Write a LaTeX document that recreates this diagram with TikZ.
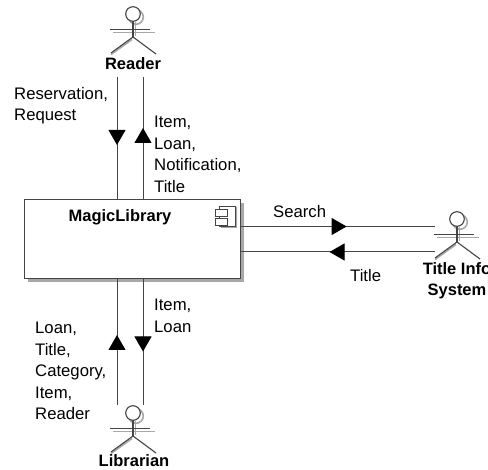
\documentclass[tikz,border=0pt]{standalone}
\usepackage{fontspec}
\setmainfont{Liberation Sans}
\usetikzlibrary{decorations.markings,arrows.meta}
\definecolor{ln}{gray}{0.27}
\definecolor{shd}{gray}{0.66}
\tikzset{
  lbl/.style={inner sep=0pt,align=left,anchor=north west,font=\fontsize{16.7}{21.5}\selectfont},
  ttl/.style={inner sep=0pt,align=center,font=\fontsize{16.5}{21}\selectfont\bfseries},
  conn/.style={draw=ln,line width=1pt},
  arrowmid/.style={postaction={decorate},decoration={markings,mark=at position #1 with {\arrow[black]{Triangle[length=15pt,width=17pt]}}}},
  actorline/.style={draw=ln,line width=1.1pt},
  actorshadow/.style={draw=shd,line width=1.6pt}
}
\newcommand{\actorfig}[3]{%
  \begin{scope}[shift={(#2,#3)}]
    \draw[actorshadow] (3,3) circle (7.3);
    \draw[actorshadow] (-20,18.5) -- (22,18.5);
    \draw[actorshadow] (-22,40.5) -- (-1,25.5);
    \draw[actorshadow] (2.5,8) -- (2.5,22);
    \draw[actorline,fill=white] (0,0) circle (7.3);
    \draw[actorline] (0,7.3) -- (0,23);
    \draw[actorline] (-23,15.5) -- (17,15.5);
    \draw[actorline] (-22,39) -- (0,23) -- (23,40);
    \coordinate (#1) at (0,0);
  \end{scope}
}
\begin{document}
\begin{tikzpicture}[x=1pt,y=-1pt]
\useasboundingbox[fill=white] (0,0) rectangle (488,470);
% component box
\fill[shd] (28,203) rectangle (244,282);
\node[draw=ln,line width=1.1pt,fill=white,minimum width=216pt,minimum height=79pt,inner sep=0pt,anchor=north west] (lib) at (24,199) {};
\node[ttl,anchor=base] (libt) at (120,222) {MagicLibrary};
% component icon
\fill[shd] (237,207) -- (237,228) -- (221,228) -- (221,227) -- (235.5,227) -- (235.5,207) -- cycle;
\draw[ln,line width=0.8pt] (219,206) rectangle (235,226.5);
\draw[ln,line width=0.8pt,fill=white] (215.5,209) rectangle (227,216);
\draw[ln,line width=0.8pt,fill=white] (215.5,218.5) rectangle (227,225.5);
% actors
\actorfig{areader}{133}{14}
\actorfig{atitle}{457}{219}
\actorfig{alib}{133}{413}
\node[ttl,anchor=base] (reader) at (133,69.5) {Reader};
\node[ttl,anchor=north] (titleinfo) at (457,262) {Title Info\\System};
\node[ttl,anchor=base] (librarian) at (134,466.5) {Librarian};
% connector ends
\coordinate (r1) at (117,77);
\coordinate (r2) at (143,77);
\coordinate (b1) at (117,405);
\coordinate (b2) at (143,405);
\coordinate (t1) at (435,226.5);
\coordinate (t2) at (435,252);
\path[conn,arrowmid=0.557] (r1) -- (r1 |- lib.north);
\path[conn,arrowmid=0.582] (r2 |- lib.north) -- (r2);
\path[conn,arrowmid=0.556] (b1) -- (b1 |- lib.south);
\path[conn,arrowmid=0.575] (b2 |- lib.south) -- (b2);
\path[conn,arrowmid=0.544] (t1 -| lib.east) -- (t1);
\path[conn,arrowmid=0.544] (t2) -- (t2 -| lib.east);
% labels
\node[lbl] (l1) at (14,87) {Reservation,\\Request};
\node[lbl] (l2) at (154,116) {Item,\\Loan,\\Notification,\\Title};
\node[lbl] (l3) at (154,299) {Item,\\Loan};
\node[lbl] (l4) at (35,322) {Loan,\\Title,\\Category,\\Item,\\Reader};
\node[lbl] (l5) at (273,205) {Search};
\node[lbl] (l6) at (350,269) {Title};
\end{tikzpicture}
\end{document}
